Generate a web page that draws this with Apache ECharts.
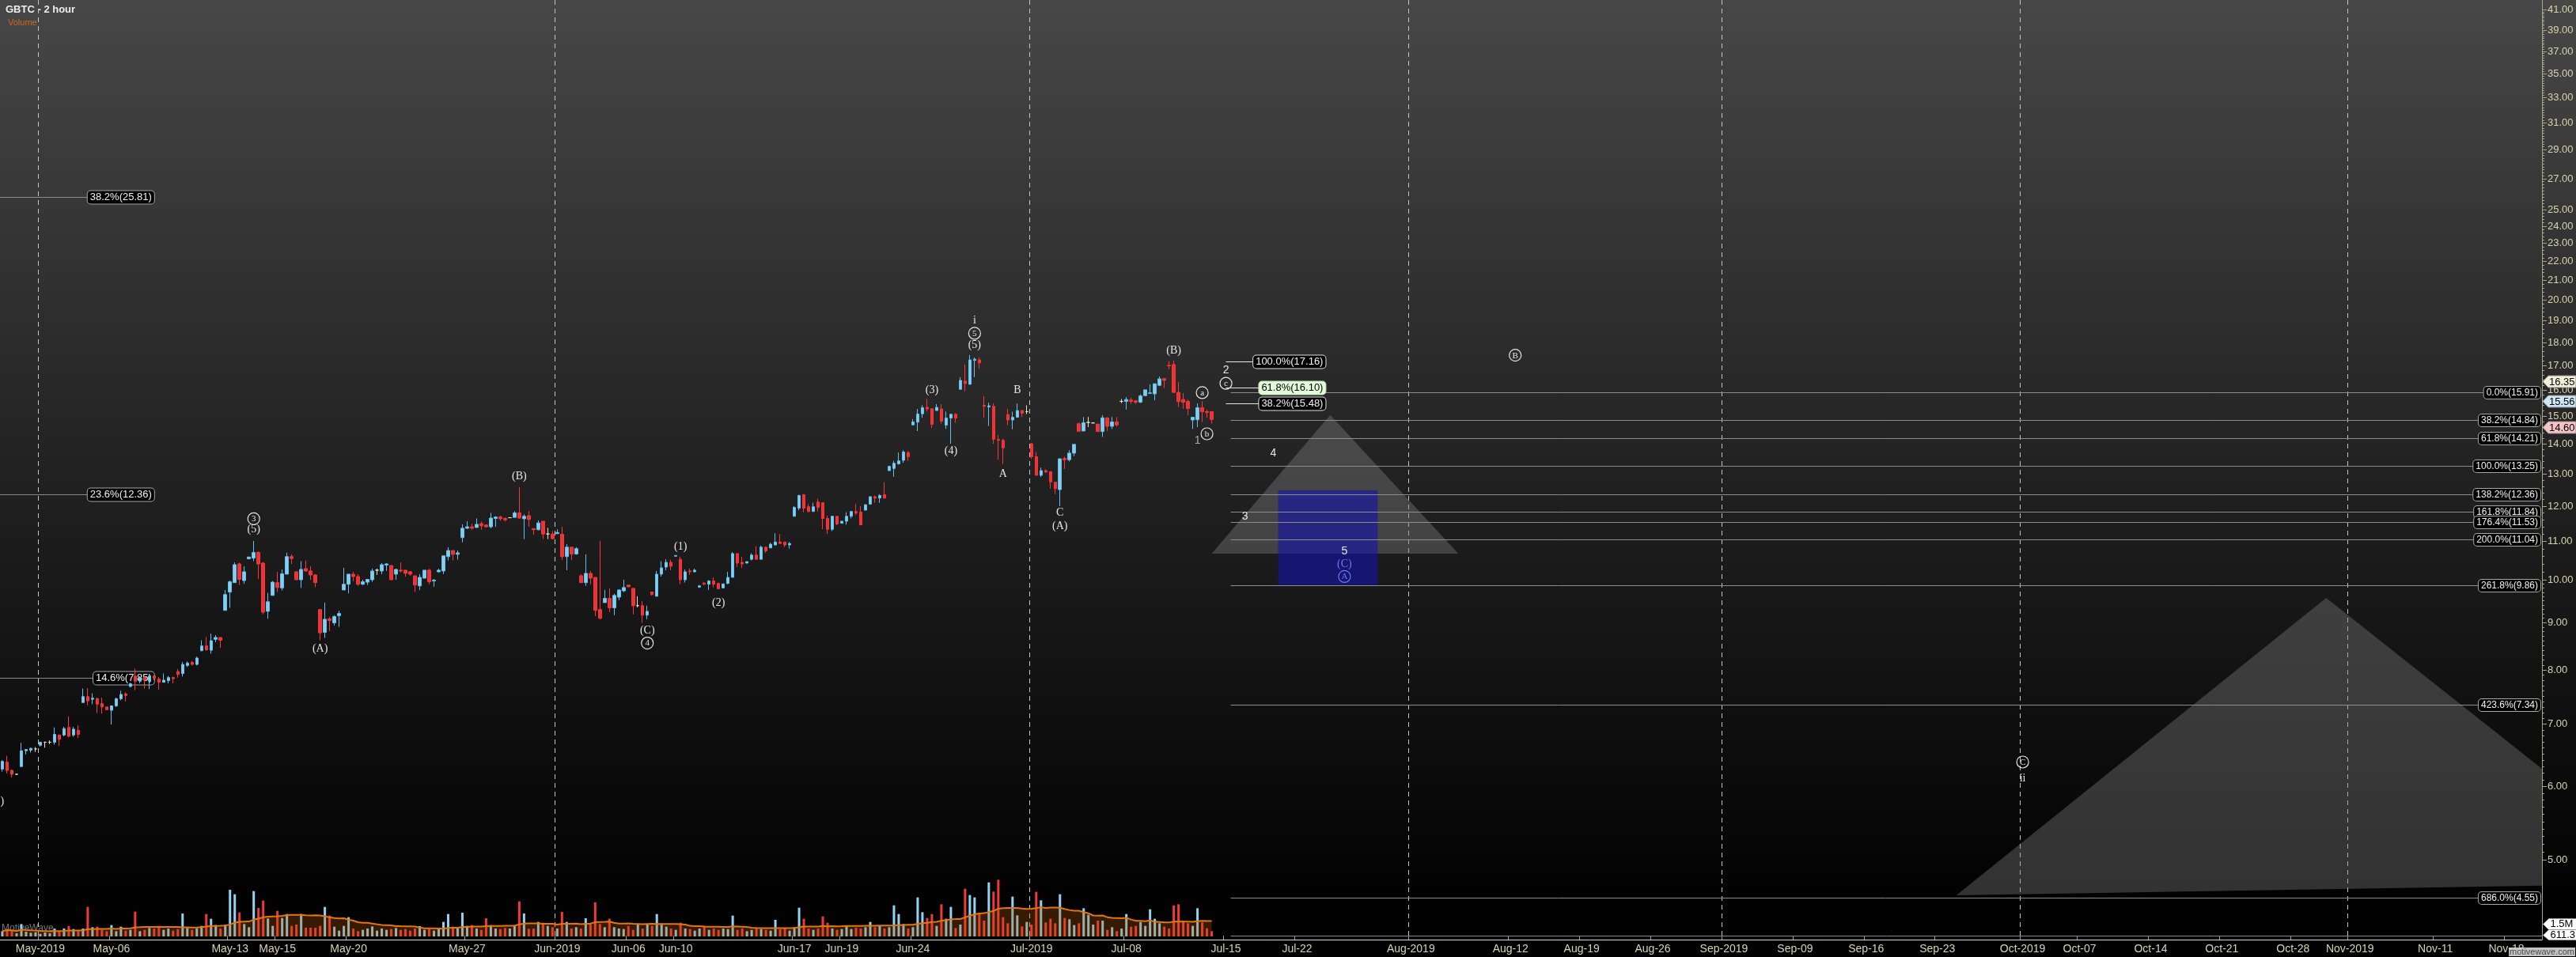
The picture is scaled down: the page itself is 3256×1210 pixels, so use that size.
<!DOCTYPE html>
<html><head><meta charset="utf-8">
<script src="https://cdn.jsdelivr.net/npm/echarts@6/dist/echarts.min.js"></script>
<style>html,body{margin:0;padding:0;background:#000;}#c{width:3256px;height:1210px;}</style>
</head><body><div id="c"></div>
<script>
// ---------- sessions (category slots) ----------
const histDays = [
 ['2019-04-29',3],['2019-04-30',5],
 ['2019-05-01',5],['2019-05-02',5],['2019-05-03',5],
 ['2019-05-06',5],['2019-05-07',5],['2019-05-08',5],['2019-05-09',5],['2019-05-10',5],
 ['2019-05-13',5],['2019-05-14',5],['2019-05-15',5],['2019-05-16',5],['2019-05-17',5],
 ['2019-05-20',5],['2019-05-21',5],['2019-05-22',5],['2019-05-23',5],['2019-05-24',5],
 ['2019-05-28',5],['2019-05-29',5],['2019-05-30',5],['2019-05-31',4],
 ['2019-06-03',5],['2019-06-04',5],['2019-06-05',5],['2019-06-06',5],['2019-06-07',5],
 ['2019-06-10',5],['2019-06-11',5],['2019-06-12',5],['2019-06-13',5],['2019-06-14',5],
 ['2019-06-17',5],['2019-06-18',5],['2019-06-19',5],['2019-06-20',5],['2019-06-21',5],
 ['2019-06-24',5],['2019-06-25',5],['2019-06-26',5],['2019-06-27',5],['2019-06-28',5],
 ['2019-07-01',5],['2019-07-02',5],['2019-07-03',5],['2019-07-05',5],
 ['2019-07-08',5],['2019-07-09',5],['2019-07-10',5],['2019-07-11',4],
 ['2019-07-12',2]
];
const futureStart = [2019, 6, 15];
const slotsPerFutureDay = 3;
const totalSlots = 536;

const xLabelText = {
 '2019-05-01':'May-2019','2019-05-06':'May-06','2019-05-13':'May-13','2019-05-15':'May-15','2019-05-20':'May-20',
 '2019-05-28':'May-27','2019-06-03':'Jun-2019','2019-06-06':'Jun-06','2019-06-10':'Jun-10','2019-06-17':'Jun-17',
 '2019-06-19':'Jun-19','2019-06-24':'Jun-24','2019-07-01':'Jul-2019','2019-07-08':'Jul-08','2019-07-15':'Jul-15',
 '2019-07-22':'Jul-22','2019-08-01':'Aug-2019','2019-08-12':'Aug-12','2019-08-19':'Aug-19','2019-08-26':'Aug-26',
 '2019-09-02':'Sep-2019','2019-09-09':'Sep-09','2019-09-16':'Sep-16','2019-09-23':'Sep-23','2019-10-01':'Oct-2019',
 '2019-10-07':'Oct-07','2019-10-14':'Oct-14','2019-10-21':'Oct-21','2019-10-28':'Oct-28','2019-11-01':'Nov-2019',
 '2019-11-11':'Nov-11','2019-11-18':'Nov-18'
};
const monthStarts = ['2019-05-01','2019-06-03','2019-07-01','2019-08-01','2019-09-02','2019-10-01','2019-11-01'];

// ---------- 2-hour candles ----------
const opens = [
 6.26,6.37,6.24,6.18,6.30,6.55,6.56,6.58,6.64,6.69,
 6.69,6.69,6.81,6.81,6.94,6.81,6.89,7.38,7.49,7.44,
 7.45,7.36,7.30,7.24,7.32,7.45,7.54,7.68,7.88,7.78,
 7.86,7.78,7.88,7.82,7.76,7.79,7.85,7.97,7.93,8.09,
 8.15,8.11,8.39,8.49,8.40,8.63,8.67,9.27,9.70,9.93,
 10.40,9.98,10.53,10.55,10.70,10.42,9.25,9.62,9.93,9.80,
 10.14,10.59,10.20,10.00,10.28,10.22,10.12,9.29,8.78,9.08,
 8.99,9.15,9.75,9.89,10.14,10.08,9.89,9.94,10.00,10.24,
 10.22,10.37,10.36,10.14,10.24,10.24,10.20,10.10,9.85,10.04,
 10.24,9.97,10.20,10.22,10.59,10.75,10.65,11.10,11.36,11.40,
 11.38,11.49,11.45,11.40,11.64,11.68,11.64,11.66,11.67,11.80,
 11.63,11.72,11.35,11.32,11.56,11.20,11.20,11.21,11.19,10.59,
 10.84,10.66,10.10,9.93,10.16,10.06,9.29,9.45,9.55,9.33,
 9.58,9.73,9.87,9.79,9.38,9.38,9.16,9.70,9.60,10.14,
 10.32,10.44,10.60,10.52,10.00,10.22,10.20,9.82,9.92,9.89,
 9.97,9.91,9.80,9.91,10.06,10.67,10.44,10.42,10.52,10.63,
 10.52,10.84,10.82,10.90,10.98,10.98,10.90,11.70,11.94,12.34,
 11.98,11.84,12.12,12.10,11.64,11.33,11.70,11.50,11.56,11.70,
 11.84,11.82,11.88,12.06,12.28,12.24,12.34,13.10,13.17,13.32,
 13.44,13.70,14.67,14.77,15.08,15.32,15.27,15.20,15.26,14.66,
 14.92,15.06,16.02,16.35,16.22,17.21,17.23,15.40,15.34,15.36,
 14.15,14.12,15.05,14.85,14.95,15.20,15.16,14.00,13.56,12.95,
 13.10,13.07,12.73,12.50,13.50,13.46,13.68,14.71,14.45,14.76,
 14.74,14.70,14.43,14.92,14.62,14.78,15.55,15.55,15.60,15.57,
 15.52,15.77,15.86,15.84,16.18,16.45,17.00,17.03,15.90,15.62,
 15.55,14.85,14.86,15.31,15.16,15.16
];
const closes = [
 6.38,6.24,6.18,6.18,6.55,6.57,6.59,6.58,6.69,6.69,
 6.69,6.82,6.74,6.92,6.79,6.91,6.82,7.49,7.41,7.46,
 7.35,7.30,7.25,7.32,7.45,7.53,7.51,7.73,7.78,7.85,
 7.80,7.88,7.84,7.76,7.80,7.85,7.83,7.91,8.11,8.14,
 8.11,8.24,8.49,8.41,8.60,8.67,8.61,9.64,9.95,10.38,
 10.01,10.20,10.58,10.70,10.40,9.23,9.47,9.94,9.81,10.15,
 10.59,10.54,10.00,10.26,10.22,10.12,9.93,8.77,9.07,9.04,
 9.13,9.20,9.89,10.14,10.08,9.89,9.95,10.01,10.22,10.24,
 10.38,10.40,10.00,10.26,10.22,10.16,10.14,9.87,10.06,10.24,
 9.95,9.99,10.24,10.61,10.75,10.65,10.69,11.36,11.40,11.36,
 11.47,11.43,11.40,11.65,11.68,11.63,11.60,11.66,11.80,11.65,
 11.70,11.61,11.32,11.51,11.20,11.20,11.07,11.24,10.59,10.84,
 10.66,10.80,9.93,10.16,10.04,9.27,9.09,9.55,9.33,9.62,
 9.75,9.81,9.83,9.38,9.38,9.16,9.25,9.64,10.14,10.30,
 10.44,10.34,10.62,10.00,10.20,10.20,10.24,9.85,9.89,9.97,
 9.89,9.78,9.90,10.06,10.67,10.42,10.40,10.46,10.63,10.52,
 10.84,10.74,10.92,10.98,10.94,10.90,10.94,11.96,12.32,11.94,
 11.84,11.98,11.96,11.64,11.33,11.70,11.48,11.56,11.70,11.84,
 11.80,11.46,12.04,12.28,12.24,12.32,12.24,13.24,13.34,13.42,
 13.72,13.56,14.78,15.07,15.31,15.26,14.69,15.32,14.81,14.92,
 15.06,14.92,16.38,16.25,17.23,17.26,17.10,15.36,15.38,14.16,
 14.12,13.86,14.85,14.95,15.20,15.10,15.16,13.56,12.95,13.10,
 13.06,12.74,12.53,13.49,13.46,13.68,13.98,14.44,14.75,14.76,
 14.74,14.43,14.93,14.62,14.78,14.67,15.55,15.62,15.55,15.52,
 15.76,16.00,15.88,16.24,16.44,16.38,16.98,15.90,15.54,15.52,
 15.28,14.95,15.31,15.16,15.13,14.87
];
const lows = [
 6.22,6.19,6.13,6.17,6.29,6.49,6.52,6.53,6.62,6.60,
 6.66,6.65,6.63,6.79,6.77,6.78,6.76,7.38,7.33,7.35,
 7.19,7.18,7.25,6.99,7.30,7.42,7.40,7.66,7.61,7.74,
 7.64,7.63,7.80,7.62,7.76,7.74,7.74,7.85,7.87,8.06,
 8.09,8.09,8.38,8.39,8.33,8.57,8.45,9.27,9.33,9.93,
 9.87,9.90,10.53,10.47,10.02,9.18,9.08,9.62,9.70,9.74,
 10.14,10.40,10.00,9.80,10.20,10.00,9.82,8.61,8.66,8.81,
 8.93,8.90,9.75,9.67,9.96,9.85,9.87,9.87,9.95,10.12,
 10.14,10.22,10.00,10.00,10.18,10.08,10.10,9.70,9.75,10.04,
 9.89,9.83,10.18,10.14,10.49,10.49,10.51,10.97,11.34,11.32,
 11.38,11.32,11.38,11.36,11.40,11.57,11.55,11.66,11.67,11.63,
 11.06,11.40,11.18,11.30,11.06,11.06,11.05,11.20,10.50,10.24,
 10.50,10.64,9.93,9.85,9.89,9.14,9.07,9.45,9.23,9.16,
 9.51,9.70,9.81,9.18,9.34,8.99,9.07,9.62,9.60,10.08,
 10.24,10.24,10.60,9.89,9.93,10.12,10.18,9.80,9.87,9.75,
 9.81,9.77,9.80,9.89,10.06,10.32,10.30,10.42,10.49,10.52,
 10.52,10.69,10.82,10.88,10.94,10.84,10.80,11.70,11.88,11.82,
 11.82,11.84,11.84,11.33,11.20,11.28,11.44,11.50,11.46,11.64,
 11.74,11.44,11.88,12.04,12.10,12.10,12.24,13.10,12.90,13.30,
 13.36,13.42,14.67,14.45,14.93,15.16,14.56,15.20,14.72,14.53,
 14.00,14.75,16.02,15.94,16.22,16.51,16.86,14.93,14.63,14.00,
 13.46,13.32,14.66,14.51,14.95,14.96,15.07,13.49,12.95,12.90,
 13.02,12.53,12.36,12.00,13.15,13.40,13.58,14.42,14.45,14.59,
 14.74,14.43,14.24,14.45,14.52,14.61,15.48,15.24,15.45,15.45,
 15.48,15.77,15.84,15.59,16.15,16.07,16.83,15.87,15.33,15.27,
 15.02,14.52,14.59,14.78,14.93,14.72
];
const highs = [
 6.40,6.47,6.25,6.19,6.68,6.58,6.60,6.61,6.70,6.70,
 6.72,6.94,6.82,6.95,7.13,6.95,6.98,7.64,7.65,7.55,
 7.47,7.47,7.30,7.33,7.47,7.60,7.57,7.75,8.03,7.88,
 7.88,7.90,7.90,7.86,7.93,7.88,7.87,8.02,8.16,8.17,
 8.18,8.27,8.61,8.68,8.75,8.72,8.67,9.75,9.98,10.44,
 10.43,10.34,10.58,11.01,10.73,10.45,9.68,9.97,10.20,10.26,
 10.69,10.65,10.20,10.47,10.49,10.34,10.14,9.29,9.45,9.12,
 9.16,9.26,10.30,10.14,10.20,10.14,10.00,10.01,10.28,10.28,
 10.42,10.42,10.36,10.28,10.44,10.24,10.22,10.10,10.14,10.24,
 10.28,10.02,10.28,10.61,10.84,10.75,10.75,11.47,11.56,11.49,
 11.64,11.55,11.47,11.80,11.70,11.72,11.66,11.66,11.85,12.58,
 11.76,11.85,11.35,11.58,11.56,11.37,11.28,11.33,11.40,10.92,
 10.84,10.84,10.14,10.65,10.22,10.06,11.01,9.75,9.79,9.66,
 9.77,10.00,9.87,9.79,9.60,9.49,9.38,9.70,10.22,10.47,
 10.52,10.51,10.62,10.59,10.26,10.28,10.28,9.87,9.94,9.99,
 10.06,9.93,9.90,10.20,10.71,10.67,10.59,10.46,10.68,10.86,
 10.88,10.86,10.96,11.22,11.20,10.98,10.98,12.00,12.34,12.36,
 12.06,12.10,12.22,12.10,11.72,11.72,11.70,11.56,11.82,11.86,
 12.06,12.00,12.06,12.30,12.32,12.36,12.73,13.24,13.42,13.70,
 13.78,13.75,14.88,15.26,15.40,15.64,15.27,15.44,15.44,15.16,
 15.06,15.10,16.51,17.03,17.44,17.33,17.33,15.75,15.50,15.47,
 14.31,14.18,15.26,15.16,15.47,15.22,15.40,14.03,13.72,13.20,
 13.14,13.07,12.73,13.50,13.56,13.78,13.98,14.75,14.96,14.96,
 14.74,14.70,15.03,14.96,14.96,14.96,15.64,15.72,15.69,15.58,
 15.82,16.00,16.22,16.26,16.54,16.47,17.17,17.20,16.31,15.87,
 15.62,14.95,15.47,15.55,15.24,15.16
];
// volume, thousands of shares
const volumes = [
 140,196,154,84,329,126,98,112,70,105,
 84,210,126,210,280,196,154,210,784,245,
 259,175,140,301,140,259,154,175,658,140,
 175,224,210,245,175,210,154,196,609,224,
 175,210,280,595,469,301,210,315,1239,1120,
 637,329,245,1204,756,952,476,280,679,490,
 595,280,315,595,231,231,231,280,784,553,
 259,154,280,511,210,140,175,210,266,154,
 210,175,196,224,175,196,154,210,273,175,
 196,154,210,385,595,259,210,630,280,301,
 210,175,483,301,210,196,224,210,280,931,
 609,203,210,385,364,280,245,210,651,385,
 210,245,210,483,343,903,329,245,469,245,
 210,196,280,175,315,210,315,280,595,343,
 259,210,175,364,210,196,154,210,280,175,
 210,175,210,196,553,175,210,140,175,210,
 196,175,154,441,189,210,154,245,763,469,
 210,175,210,532,364,210,175,196,273,196,
 231,210,245,385,245,280,210,245,826,595,
 329,210,245,1036,644,490,595,280,854,469,
 784,224,315,1267,1099,1036,630,420,1435,1190,
 1505,511,350,1057,560,266,385,315,1183,959,
 371,469,350,1120,490,455,301,350,749,574,
 315,420,420,175,245,140,210,595,259,280,
 385,280,721,469,350,259,210,826,854,420,
 350,280,749,371,217,140
];
const volMAPeriod = 20;

// ---------- price axis ----------
const yTickValues = [41,39,37,35,33,31,29,27,25,24,23,22,21,20,19,18,17,16,15,14,13,12,11,10,9,8,7,6,5];
const yMin = 4.105, yMax = 41.98;
const priceTagValues = [16.35, 15.56, 14.60];
const priceTagColors = ['#f3efd8', '#cde7f7', '#f6c3c6'];

// ---------- Fibonacci levels ----------
const fibRightPcts = ['0.0%','38.2%','61.8%','100.0%','138.2%','161.8%','176.4%','200.0%','261.8%','423.6%','686.0%'];
const fibRightPrices = [15.91,14.84,14.21,13.25,12.36,11.84,11.53,11.04,9.86,7.34,4.55];
const fibUpperPcts = ['100.0%','61.8%','38.2%'];
const fibUpperPrices = [17.16,16.10,15.48];
const fibLeftPcts = ['38.2%','23.6%','14.6%'];
const fibLeftPrices = [25.81,12.36,7.85];

// ---------- projection shapes [slot, price] ----------
const topTriangle = [[280,15.03],[255,10.67],[307,10.67]];
const lowerTriangle = [[490,9.56],[412,4.58],[566,4.72]];
const projectionBox = [[269,12.48],[290,9.87]];

// ---------- wave labels [slot, price, text, style] ----------
const waveLabels = [
 [-1,5.78,'(2)','s'],
 [53,11.63,'3','c'],[53,11.33,'(5)','s'],
 [67,8.43,'(A)','s'],
 [109,12.92,'(B)','s'],
 [136,8.82,'(C)','s'],[136,8.55,'4','c'],
 [143,10.86,'(1)','s'],
 [151,9.45,'(2)','s'],
 [196,16.0,'(3)','s'],
 [200,13.74,'(4)','s'],
 [205,18.99,'i','s'],[205,18.4,'5','c'],[205,17.86,'(5)','s'],
 [211,13.0,'A','s'],
 [214,16.0,'B','s'],
 [223,11.8,'C','s'],[223,11.42,'(A)','s'],
 [247,17.63,'(B)','s'],
 [253,15.89,'a','c'],[254,14.35,'b','c'],[252,14.1,'1','g'],
 [258,16.79,'2','n'],[258,16.26,'c','c'],
 [262,11.7,'3','n'],
 [268,13.68,'4','n'],
 [283,10.72,'5','n'],[283,10.39,'(C)','bs'],[283,10.08,'A','bc'],
 [319,17.43,'B','c'],
 [426,6.37,'C','c'],[426,6.12,'ii','s']
];

// ---------- build categories ----------
const categories = [];
histDays.forEach(([d, n]) => { for (let k = 0; k < n; k++) categories.push(d + ' ' + k); });
{
  const dt = new Date(Date.UTC(futureStart[0], futureStart[1], futureStart[2]));
  while (categories.length < totalSlots) {
    const wd = dt.getUTCDay();
    if (wd !== 0 && wd !== 6) {
      const ds = dt.toISOString().slice(0, 10);
      for (let k = 0; k < slotsPerFutureDay && categories.length < totalSlots; k++) categories.push(ds + ' ' + k);
    }
    dt.setUTCDate(dt.getUTCDate() + 1);
  }
}
const isLabelSlot = v => v.slice(11) === '0' && xLabelText[v.slice(0, 10)] !== undefined;
const isMonthSlot = v => v.slice(11) === '0' && monthStarts.indexOf(v.slice(0, 10)) >= 0;

const candleData = opens.map((o, i) => [o, closes[i], lows[i], highs[i]]);
const volMA = volumes.map((v, i) => {
  const s = Math.max(0, i - volMAPeriod + 1); let sum = 0;
  for (let k = s; k <= i; k++) sum += volumes[k];
  return +(sum / (i - s + 1)).toFixed(1);
});

const SANS = '"Liberation Sans", Arial, sans-serif';
const SERIF = '"Liberation Serif", "Times New Roman", serif';
const axisCol = '#a9a58c';
const axisTxt = '#d9d3ad';

function fibSeries(prices, pcts, opt) {
  return {
    type: 'custom', xAxisIndex: 0, yAxisIndex: 0, clip: false, silent: true, z: 3,
    data: prices.map((p, i) => [0, p, i]),
    renderItem(params, api) {
      const i = api.value(2); const p = prices[i]; const cs = params.coordSys;
      const y = Math.round(api.coord([0, p])[1]) + 0.5;
      const x1 = opt.startSlot == null ? cs.x : api.coord([opt.startSlot, p])[0];
      const xr = opt.endSlot == null ? cs.x + cs.width - 2 : api.coord([opt.endSlot, p])[0];
      const hl = opt.highlight === i;
      return { type: 'group', children: [
        { type: 'line', shape: { x1: x1, y1: y, x2: xr, y2: y }, style: { stroke: opt.lineColor, lineWidth: 1 } },
        { type: 'text', x: xr, y: y, style: {
            text: pcts[i] + '(' + p.toFixed(2) + ')', align: 'right', verticalAlign: 'middle',
            font: opt.font, fill: hl ? '#000' : '#f2f2f2', backgroundColor: hl ? '#e2fbd8' : '#000',
            borderColor: hl ? '#bfe0b8' : opt.border, borderWidth: 1, borderRadius: 4, padding: [2, 3, 1, 3] } }
      ]};
    }
  };
}

const chart = echarts.init(document.getElementById('c'), null, { renderer: 'canvas', width: 3256, height: 1210 });
chart.setOption({
  animation: false,
  backgroundColor: { type: 'linear', x: 0, y: 0, x2: 0, y2: 1, colorStops: [
    { offset: 0, color: '#474747' }, { offset: 0.25, color: '#343434' }, { offset: 0.5, color: '#212121' },
    { offset: 0.75, color: '#0f0f0f' }, { offset: 0.92, color: '#030303' }, { offset: 1, color: '#000000' } ] },
  grid: [
    { left: 0, right: 43, top: 0, bottom: 22, containLabel: false, outerBoundsMode: 'none' },
    { left: 0, right: 43, top: 1084, height: 100, containLabel: false, outerBoundsMode: 'none' }
  ],
  xAxis: [
    { type: 'category', gridIndex: 0, data: categories, boundaryGap: true,
      axisLine: { show: true, lineStyle: { color: '#dcdcdc', width: 1 } },
      axisTick: { show: true, inside: true, length: 5, interval: (i, v) => isLabelSlot(v), lineStyle: { color: '#9a9a9a' } },
      axisLabel: { show: true, interval: (i, v) => isLabelSlot(v), formatter: v => xLabelText[v.slice(0, 10)] || '',
        color: axisTxt, fontSize: 14, fontFamily: '"Liberation Sans Narrow", "Liberation Sans", Arial, sans-serif', margin: 5 },
      splitLine: { show: true, interval: (i, v) => isMonthSlot(v), lineStyle: { color: '#c4c4c4', width: 1, type: [6, 5] } } },
    { type: 'category', gridIndex: 1, data: categories, boundaryGap: true, show: false }
  ],
  yAxis: [
    { type: 'log', gridIndex: 0, position: 'right', min: yMin, max: yMax, logBase: 10,
      axisLine: { show: true, lineStyle: { color: axisCol } }, axisTick: { show: false },
      axisLabel: { show: false }, splitLine: { show: false } },
    { type: 'value', gridIndex: 1, min: 0, max: 2100, show: false, splitLine: { show: false } }
  ],
  graphic: [
    { type: 'text', left: 7, top: 6, style: { text: 'GBTC - 2 hour', fill: '#ececec', font: 'bold 13px ' + SANS } },
    { type: 'text', left: 10, top: 23, style: { text: 'Volume', fill: '#d2691e', font: '11px ' + SANS } },
    { type: 'text', left: 2, top: 1168, style: { text: 'MotiveWave', fill: 'rgba(215,215,215,0.55)', font: '12px ' + SANS } },
    { type: 'group', left: 3214, top: 1161, children: [
      { type: 'polygon', shape: { points: [[0, 7], [7, 0], [42, 0], [42, 14], [7, 14]] }, style: { fill: '#ffffff', stroke: '#999' } },
      { type: 'text', x: 9, y: 7, style: { text: '1.5M', fill: '#000', font: '13px ' + SANS, verticalAlign: 'middle' } } ] },
    { type: 'group', left: 3214, top: 1175, children: [
      { type: 'polygon', shape: { points: [[0, 7], [7, 0], [42, 0], [42, 13], [7, 13]] }, style: { fill: '#ffffff', stroke: '#999' } },
      { type: 'text', x: 9, y: 7, style: { text: '611.3K', fill: '#000', font: '13px ' + SANS, verticalAlign: 'middle' } } ] },
    { type: 'text', right: 1, bottom: 1, z: 100, style: { text: 'motivewave.com', fill: '#4a4a4a', backgroundColor: 'rgba(215,215,215,0.9)', font: '11px ' + SANS, padding: [0, 1] } }
  ],
  series: [
    // projection shapes
    { type: 'custom', xAxisIndex: 0, yAxisIndex: 0, clip: true, silent: true, z: 1, data: [[0, 10]],
      renderItem(params, api) {
        const pts = arr => arr.map(v => api.coord(v));
        const r = pts(projectionBox);
        return { type: 'group', children: [
          { type: 'polygon', shape: { points: pts(topTriangle) }, style: { fill: 'rgba(128,128,128,0.4)' } },
          { type: 'polygon', shape: { points: pts(lowerTriangle) }, style: { fill: 'rgba(128,128,128,0.38)' } },
          { type: 'rect', shape: { x: r[0][0], y: r[0][1], width: r[1][0] - r[0][0], height: r[1][1] - r[0][1] }, style: { fill: 'rgba(20,20,170,0.6)' } }
        ]};
      } },
    fibSeries(fibRightPrices, fibRightPcts, { startSlot: 259, endSlot: null, lineColor: '#8d8d8d', border: '#a6a6a6', font: '12px ' + SANS }),
    fibSeries(fibUpperPrices, fibUpperPcts, { startSlot: 258, endSlot: 279, lineColor: '#e6e6e6', border: '#e0e0e0', font: '13px ' + SANS, highlight: 1 }),
    fibSeries(fibLeftPrices, fibLeftPcts, { startSlot: null, endSlot: 32, lineColor: '#8a8a8a', border: '#a6a6a6', font: '13px ' + SANS }),
    // candles
    { type: 'candlestick', xAxisIndex: 0, yAxisIndex: 0, data: candleData, barWidth: 4, z: 4,
      itemStyle: { color: '#8dcbe8', color0: '#e5343a', borderColor: '#5fc0f2', borderColor0: '#ff3434', borderColorDoji: '#e9e3c6', borderWidth: 1 } },
    // volume
    { type: 'bar', xAxisIndex: 1, yAxisIndex: 1, data: volumes, barWidth: 3, z: 2,
      itemStyle: { color: p => closes[p.dataIndex] >= opens[p.dataIndex] ? '#92d2f2' : '#f03a3a' } },
    { type: 'line', xAxisIndex: 1, yAxisIndex: 1, data: volMA, symbol: 'none', z: 3, smooth: false,
      lineStyle: { color: '#e27612', width: 2 }, areaStyle: { color: 'rgba(185,92,8,0.42)' } },
    { type: 'custom', xAxisIndex: 1, yAxisIndex: 1, clip: false, silent: true, z: 2, data: [[259, 0]],
      renderItem(params, api) {
        const p = api.coord([api.value(0), 0]); const cs = params.coordSys; const y = Math.round(p[1]) - 0.5;
        return { type: 'line', shape: { x1: p[0], y1: y, x2: cs.x + cs.width, y2: y }, style: { stroke: '#8a8a8a', lineWidth: 1 } };
      } },
    // wave labels
    { type: 'custom', xAxisIndex: 0, yAxisIndex: 0, clip: false, silent: true, z: 6,
      data: waveLabels.map((w, i) => [w[0], w[1], i]),
      renderItem(params, api) {
        const w = waveLabels[api.value(2)];
        const pt = api.coord([w[0], w[1]]);
        const k = w[3];
        const col = k[0] === 'b' ? '#6f77ea' : (k === 'g' ? '#a9a9a9' : '#e6e6e6');
        if (k === 'c' || k === 'bc') {
          return { type: 'group', children: [
            { type: 'circle', shape: { cx: pt[0], cy: pt[1], r: 7.5 }, style: { fill: 'none', stroke: col, lineWidth: 1.2 } },
            { type: 'text', x: pt[0], y: pt[1] + 0.5, style: { text: w[2], align: 'center', verticalAlign: 'middle', fill: col, font: '11px ' + SERIF } }
          ]};
        }
        const font = (k === 'n' || k === 'g') ? '14px ' + SANS : '14px ' + SERIF;
        return { type: 'text', x: pt[0], y: pt[1], style: { text: w[2], align: 'center', verticalAlign: 'middle', fill: col, font: font } };
      } },
    // right price axis labels + major ticks
    { type: 'custom', xAxisIndex: 0, yAxisIndex: 0, clip: false, silent: true, z: 7,
      data: yTickValues.map(v => [0, v]),
      renderItem(params, api) {
        const v = api.value(1); const cs = params.coordSys; const x = cs.x + cs.width;
        const y = Math.round(api.coord([0, v])[1]) + 0.5;
        return { type: 'group', children: [
          { type: 'line', shape: { x1: x, y1: y, x2: x + 6, y2: y }, style: { stroke: axisCol, lineWidth: 1 } },
          { type: 'text', x: x + 7, y: y, style: { text: v.toFixed(2), align: 'left', verticalAlign: 'middle', fill: axisTxt, font: '13px ' + SANS } }
        ]};
      } },
    // minor ticks
    { type: 'custom', xAxisIndex: 0, yAxisIndex: 0, clip: false, silent: true, z: 7,
      data: (() => { const a = []; for (let t = 50; t <= 410; t += (t < 100 ? 1 : 2)) { if (t % 10 !== 0 || t > 250) a.push([0, t / 10]); } return a; })(),
      renderItem(params, api) {
        const v = api.value(1); const cs = params.coordSys; const x = cs.x + cs.width;
        const y = Math.round(api.coord([0, v])[1]) + 0.5;
        return { type: 'line', shape: { x1: x, y1: y, x2: x + 3, y2: y }, style: { stroke: axisCol, lineWidth: 1 } };
      } },
    // price tags
    { type: 'custom', xAxisIndex: 0, yAxisIndex: 0, clip: false, silent: true, z: 8,
      data: priceTagValues.map((v, i) => [0, v, i]),
      renderItem(params, api) {
        const i = api.value(2); const v = priceTagValues[i]; const cs = params.coordSys; const x = cs.x + cs.width + 1;
        const y = Math.round(api.coord([0, v])[1]) + 0.5;
        return { type: 'group', children: [
          { type: 'polygon', shape: { points: [[x, y], [x + 7, y - 7.5], [x + 42, y - 7.5], [x + 42, y + 7.5], [x + 7, y + 7.5]] }, style: { fill: priceTagColors[i], stroke: '#8a8a8a', lineWidth: 1 } },
          { type: 'text', x: x + 8, y: y + 0.5, style: { text: v.toFixed(2), align: 'left', verticalAlign: 'middle', fill: '#000', font: '13px ' + SANS } }
        ]};
      } }
  ]
});
</script></body></html>
